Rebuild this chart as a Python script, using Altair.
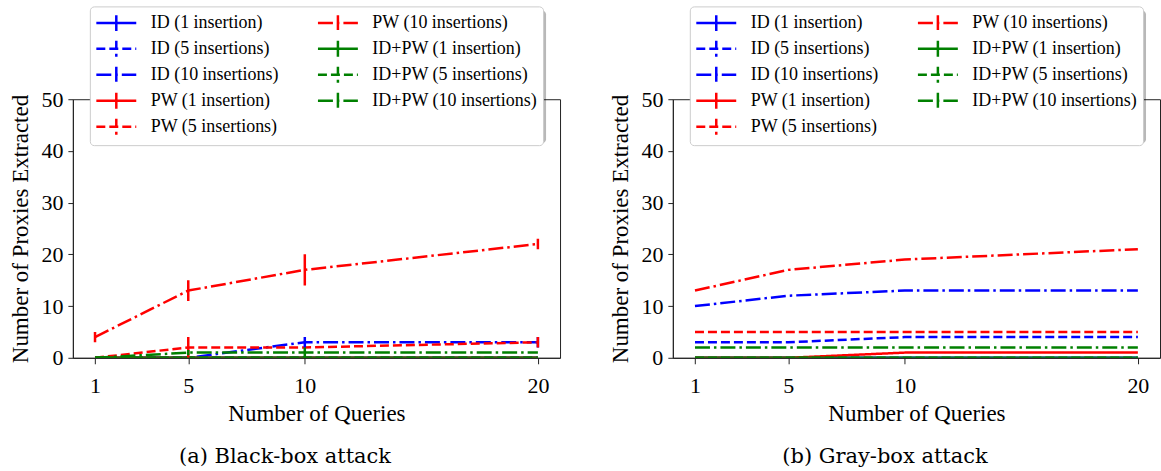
import altair as alt
import pandas as pd

queries = [1, 5, 10, 20]

series_names = [
    "ID (1 insertion)", "ID (5 insertions)", "ID (10 insertions)",
    "PW (1 insertion)", "PW (5 insertions)", "PW (10 insertions)",
    "ID+PW (1 insertion)", "ID+PW (5 insertions)", "ID+PW (10 insertions)",
]
series_colors = ["#0000ff", "#0000ff", "#0000ff",
                 "#ff0000", "#ff0000", "#ff0000",
                 "#008000", "#008000", "#008000"]
series_dashes = [[1, 0], [9, 4], [15, 4, 2.5, 4]] * 3

# Black-box attack (mean values and error half-widths)
black_values = [
    [0, 0, 0, 0],
    [0, 0, 0, 0],
    [0, 0, 3, 3],
    [0, 0, 0, 0],
    [0, 2, 2, 3],
    [4, 13, 17, 22],
    [0, 0, 0, 0],
    [0, 0, 0, 0],
    [0, 1, 1, 1],
]
black_errors = [
    [0, 0, 0, 0],
    [0, 0, 0, 0],
    [0, 0, 1, 1],
    [0, 0, 0, 0],
    [0, 2, 0, 1],
    [1, 2, 3, 1],
    [0, 0, 0, 0],
    [0, 0, 0, 0],
    [0, 0.5, 1, 0],
]

# Gray-box attack
gray_values = [
    [0, 0, 0, 0],
    [3, 3, 4, 4],
    [10, 12, 13, 13],
    [0, 0, 1, 1],
    [5, 5, 5, 5],
    [13, 17, 19, 21],
    [0, 0, 0, 0],
    [0, 0, 0, 0],
    [2, 2, 2, 2],
]
gray_errors = [[0, 0, 0, 0] for _ in range(9)]

SERIF = "Times New Roman, Liberation Serif, Times, serif"
CAPTION_FONT = "DejaVu Serif"

LEGEND_X, LEGEND_Y = 17, -93
LEGEND_W, LEGEND_H = 453, 133
SHADOW = 4


def make_frame(values, errors):
    rows = []
    for k, name in enumerate(series_names):
        for i, q in enumerate(queries):
            v = values[k][i]
            e = errors[k][i]
            rows.append({"series": name, "order": k, "q": q, "v": v,
                         "lo": max(0, v - e), "hi": v + e, "e": e})
    return pd.DataFrame(rows)


def panel(values, errors, caption):
    df = make_frame(values, errors)
    legend = alt.Legend(
        orient="none", legendX=LEGEND_X, legendY=LEGEND_Y, columns=2, title=None,
        symbolType="M-1,0H3M1,-0.8V0.8", symbolSize=400, symbolStrokeWidth=2.5,
        symbolFillColor="transparent",
        labelFont=SERIF, labelFontSize=18, labelColor="#000", labelOffset=33,
        labelLimit=300,
        fillColor="white", strokeColor="#cccccc", cornerRadius=4, padding=5,
        rowPadding=-1, columnPadding=34,
    )
    color = alt.Color("series:N", scale=alt.Scale(domain=series_names, range=series_colors),
                      legend=legend)
    dash = alt.StrokeDash("series:N", scale=alt.Scale(domain=series_names, range=series_dashes),
                          legend=legend)
    x = alt.X("q:Q", scale=alt.Scale(domain=[0.05, 20.95], nice=False, zero=False),
              axis=alt.Axis(values=queries, title="Number of Queries", grid=False,
                            tickSize=6, labelPadding=12, titlePadding=6))
    y = alt.Y("v:Q", scale=alt.Scale(domain=[0, 50], nice=False),
              axis=alt.Axis(values=[0, 10, 20, 30, 40, 50], title="Number of Proxies Extracted",
                            grid=False, tickSize=5, labelPadding=5, titlePadding=8))
    lines = alt.Chart(df).mark_line(strokeWidth=2.5, clip=True).encode(
        x=x, y=y, color=color, strokeDash=dash, order="order:Q", detail="series:N")
    errs = alt.Chart(df).transform_filter("datum.e > 0").mark_rule(strokeWidth=2.5, clip=True).encode(
        x="q:Q", y="lo:Q", y2="hi:Q",
        color=alt.Color("series:N", scale=alt.Scale(domain=series_names, range=series_colors),
                        legend=None))
    # drop shadow behind the legend box (decoration only)
    shadow = alt.Chart(pd.DataFrame({"s": [0]})).mark_rect(
        color="#000", opacity=0.28, cornerRadius=4
    ).encode(
        x=alt.value(LEGEND_X + SHADOW), x2=alt.value(LEGEND_X + SHADOW + LEGEND_W),
        y=alt.value(LEGEND_Y + SHADOW), y2=alt.value(LEGEND_Y + SHADOW + LEGEND_H),
    )
    return alt.layer(shadow, lines, errs).properties(
        width=488, height=259,
        title=alt.TitleParams(caption, orient="bottom", font=CAPTION_FONT, fontSize=21,
                              fontWeight="normal", color="#000", offset=20,
                              frame="bounds", anchor="middle"),
    )


left = panel(black_values, black_errors, "(a) Black-box attack")
right = panel(gray_values, gray_errors, "(b) Gray-box attack")

chart = alt.hconcat(left, right, spacing=48).resolve_scale(
    color="independent", strokeDash="independent"
).properties(
    padding={"left": 9, "top": 5, "right": 0, "bottom": 0}
).configure_view(stroke="#222", strokeWidth=1).configure_axis(
    domainColor="#222", tickColor="#222", labelColor="#000", titleColor="#000",
    labelFont=SERIF, labelFontSize=22, titleFont=SERIF, titleFontSize=23,
    titleFontWeight="normal",
)

chart.save("out.html", embed_options={"renderer": "svg", "actions": False})
